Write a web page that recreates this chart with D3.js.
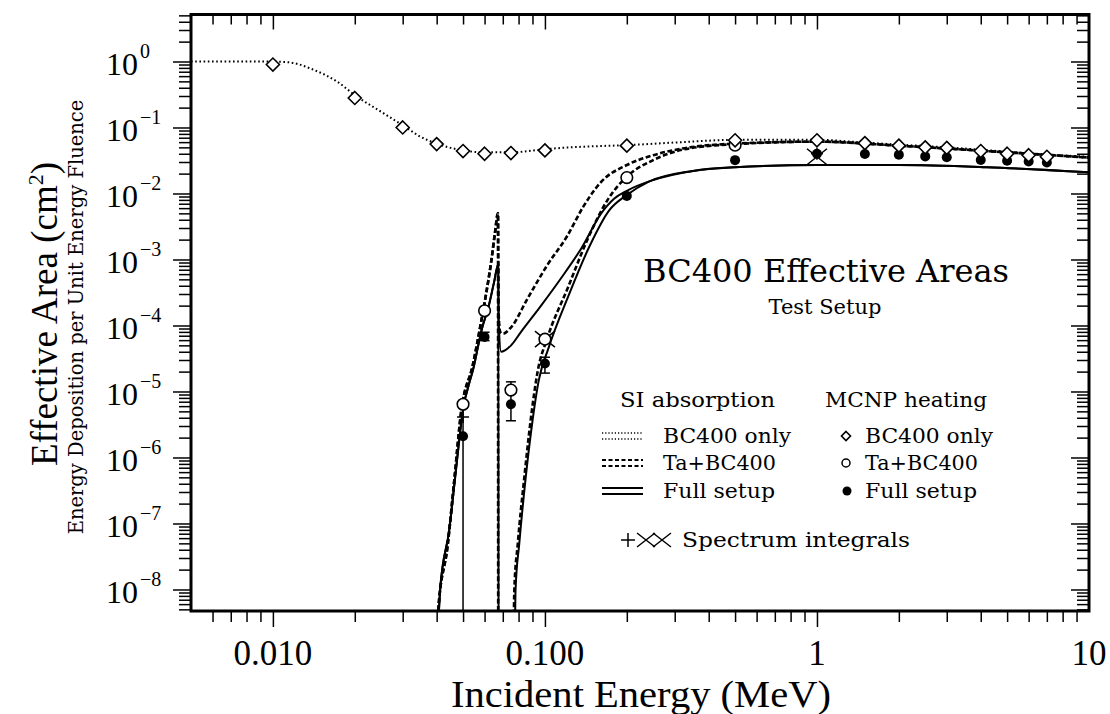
<!DOCTYPE html>
<html><head><meta charset="utf-8">
<script src="https://cdn.jsdelivr.net/npm/d3@7"></script>
<style>body{margin:0;background:#fff}svg{display:block}</style></head>
<body><svg id="c" width="1110" height="714"></svg>
<script>
// ---------- data ----------
const xTickValues = [0.01, 0.1, 1, 10];
const xTickLabels = ["0.010", "0.100", "1", "10"];
const yTickExponents = [0, -1, -2, -3, -4, -5, -6, -7, -8];

// SI absorption curves (energy MeV, effective area cm^2)
const siBC400E = [0.005,0.008,0.0105,0.0115,0.0142,0.0173,0.02,0.025,0.03,0.035,0.04,0.05,0.06,0.075,0.1,0.136,0.2,0.32,0.5,1,1.5,2,3,5,7,10];
const siBC400V = [1.0,1.0,0.99,0.97,0.74,0.49,0.31,0.173,0.108,0.072,0.057,0.045,0.042,0.042,0.047,0.051,0.054,0.060,0.065,0.065,0.059,0.055,0.050,0.043,0.039,0.036];

const siTaUpperE = [0.0398,0.0405,0.0439,0.0465,0.0492,0.0543,0.0582,0.0604,0.0634,0.0655,0.0672,0.0676,0.0685,0.070,0.0751,0.0865,0.102,0.121,0.138,0.161,0.2,0.25,0.32,0.5,1,2,5,10];
const siTaUpperV = [1e-9,4.6e-9,4.7e-8,4.8e-7,4.9e-6,2.5e-5,1.1e-4,2.6e-4,9e-4,2.5e-3,5.0e-3,1.5e-4,8e-5,7.5e-5,9.4e-5,2.6e-4,8.2e-4,2.3e-3,6.2e-3,0.015,0.027,0.038,0.048,0.057,0.061,0.053,0.042,0.035];

const siTaLowerE = [0.0398,0.0405,0.0439,0.0465,0.0492,0.0543,0.0582,0.0604,0.0634,0.0655,0.0672,0.0674,0.0755,0.0772,0.0795,0.084,0.0885,0.094,0.102,0.121,0.144,0.17,0.2,0.25,0.32,0.5,1,2,5,10];
const siTaLowerV = [1e-9,4.6e-9,4.7e-8,4.8e-7,4.9e-6,2.5e-5,1.1e-4,2.6e-4,9e-4,2.5e-3,5.0e-3,1e-11,1e-11,1e-8,5e-8,5e-7,3.5e-6,2e-5,6.4e-5,3.6e-4,2.1e-3,8e-3,0.018,0.032,0.046,0.056,0.061,0.053,0.042,0.035];

const siFullUpperE = [0.0401,0.0412,0.0445,0.047,0.0497,0.0548,0.0587,0.062,0.065,0.0674,0.0677,0.069,0.0751,0.0817,0.0968,0.1146,0.136,0.161,0.18,0.2,0.25,0.35,0.5,1,2,4.2,10];
const siFullUpperV = [1e-9,1e-8,8e-8,6e-7,4.5e-6,2.4e-5,9e-5,1.9e-4,4.5e-4,8.5e-4,1e-4,4.0e-5,5e-5,8e-5,2.0e-4,5.2e-4,1.47e-3,5.0e-3,8.4e-3,0.011,0.016,0.022,0.025,0.027,0.027,0.025,0.021];

const siFullLowerE = [0.0401,0.0412,0.0445,0.047,0.0497,0.0548,0.0587,0.062,0.065,0.0674,0.0676,0.0765,0.078,0.0805,0.085,0.0895,0.095,0.103,0.122,0.146,0.172,0.2,0.24,0.35,0.5,1,2,4.2,10];
const siFullLowerV = [1e-9,1e-8,8e-8,6e-7,4.5e-6,2.4e-5,9e-5,1.9e-4,4.5e-4,8.5e-4,1e-11,1e-11,1e-8,5e-8,5e-7,3e-6,1.5e-5,4.5e-5,2.8e-4,1.6e-3,5.5e-3,9.5e-3,0.015,0.022,0.025,0.027,0.027,0.025,0.021];

// MCNP heating points
const mcnpBC400E = [0.01,0.02,0.03,0.04,0.05,0.06,0.075,0.1,0.2,0.5,1,1.5,2,2.5,3,4,5,6,7];
const mcnpBC400V = [0.90,0.28,0.10,0.056,0.044,0.040,0.041,0.045,0.053,0.064,0.064,0.058,0.053,0.050,0.049,0.044,0.040,0.038,0.036];
const mcnpTaE = [0.05,0.06,0.075,0.1,0.2,0.5];
const mcnpTaV = [6.4e-6,1.67e-4,1.05e-5,6.2e-5,0.0174,0.054];
const mcnpFullE = [0.05,0.06,0.075,0.1,0.2,0.5,1,1.5,2,2.5,3,4,5,6,7];
const mcnpFullV = [2.1e-6,6.7e-5,6.4e-6,2.65e-5,0.0092,0.032,0.040,0.0397,0.0387,0.0365,0.0354,0.0322,0.0314,0.0305,0.0295];

// error bars
const errE  = [0.01, 0.05, 0.06, 0.075, 0.1];
const errLo = [0.83, 1e-12, 5.9e-5, 3.6e-6, 1.9e-5];
const errHi = [1.07, 6.4e-6, 7.9e-5, 1.4e-5, 3.3e-5];

// spectrum integrals
const specPlusE = [0.05, 1.0];
const specPlusV = [4.1e-6, 0.040];
const specCrossE = [0.1, 1.0];
const specCrossV = [6.2e-5, 0.036];

const legendLineLabels = ["BC400 only", "Ta+BC400", "Full setup"];
const legendMarkLabels = ["BC400 only", "Ta+BC400", "Full setup"];

// ---------- chart ----------
const svg = d3.select("#c");
const L = 191, R = 1089, T = 14.5, B = 611;
const x = d3.scaleLog().domain([0.005, 10]).range([L, R]);
const y = d3.scaleLog().domain([Math.pow(10, -8.326), Math.pow(10, 0.712)]).range([B, T]);
const serif = "'DejaVu Serif', serif";
const tserif = "'Liberation Serif', serif";

svg.append("rect").attr("width", 1110).attr("height", 714).attr("fill", "#fff");

// minor tick values
const xMinor = [], yMinor = [];
for (let k = -3; k <= 1; k++) for (let m = 2; m <= 9; m++) {
  const v = m * Math.pow(10, k);
  if (v > 0.005 && v < 10) xMinor.push(v);
}
for (let k = -9; k <= 0; k++) for (let m = 2; m <= 9; m++) {
  const v = m * Math.pow(10, k);
  if (v > y.domain()[0] && v < y.domain()[1]) yMinor.push(v);
}
const yMajor = yTickExponents.map(e => Math.pow(10, e));
const xMajorAll = [0.01, 0.1, 1];

function axisG(axisFn, scale, vals, size, tr) {
  const g = svg.append("g").attr("transform", tr)
    .call(axisFn(scale).tickValues(vals).tickSize(size).tickFormat(""));
  g.select(".domain").remove();
  g.selectAll(".tick line").attr("stroke", "#000").attr("stroke-width", 1.5);
  return g;
}
// left: outward
axisG(d3.axisLeft, y, yMajor, 18, `translate(${L},0)`);
axisG(d3.axisLeft, y, yMinor, 12, `translate(${L},0)`);
// right: inward
axisG(d3.axisLeft, y, yMajor, 18, `translate(${R},0)`);
axisG(d3.axisLeft, y, yMinor, 12, `translate(${R},0)`);
// bottom: outward
axisG(d3.axisBottom, x, xMajorAll, 16, `translate(0,${B})`);
axisG(d3.axisBottom, x, xMinor, 11, `translate(0,${B})`);
// top: inward
axisG(d3.axisBottom, x, xMajorAll, 15, `translate(0,${T})`);
axisG(d3.axisBottom, x, xMinor, 10, `translate(0,${T})`);

// y tick labels 10^k
yTickExponents.forEach(e => {
  const yy = y(Math.pow(10, e));
  svg.append("text").attr("x", 106).attr("y", yy + 14)
    .attr("font-family", tserif).attr("font-size", 32).attr("fill", "#000").text("10");
  svg.append("text").attr("x", 140).attr("y", yy - 3)
    .attr("font-family", tserif).attr("font-size", 20).attr("fill", "#000")
    .text(e === 0 ? "0" : "\u2212" + (-e));
});
// x tick labels
xTickValues.forEach((v, i) => {
  svg.append("text").attr("x", x(v)).attr("y", 665).attr("text-anchor", "middle")
    .attr("font-family", tserif).attr("font-size", 35).attr("fill", "#000").text(xTickLabels[i]);
});
// axis titles
svg.append("text").attr("x", 641).attr("y", 706.5).attr("text-anchor", "middle")
  .attr("font-family", tserif).attr("font-size", 38).attr("textLength", 380).attr("lengthAdjust", "spacingAndGlyphs")
  .attr("fill", "#000").text("Incident Energy (MeV)");
const yt = svg.append("text").attr("transform", "translate(57,314) rotate(-90)").attr("text-anchor", "middle")
  .attr("font-family", tserif).attr("font-size", 37).attr("fill", "#000");
yt.append("tspan").text("Effective Area (cm");
yt.append("tspan").attr("font-size", 22).attr("dy", -14).text("2");
yt.append("tspan").attr("dy", 14).text(")");
svg.append("text").attr("transform", "translate(83,317) rotate(-90)").attr("text-anchor", "middle")
  .attr("font-family", serif).attr("font-size", 19.5).attr("fill", "#000")
  .text("Energy Deposition per Unit Energy Fluence");

// clip
svg.append("clipPath").attr("id", "pc").append("rect")
  .attr("x", L).attr("y", T).attr("width", R - L).attr("height", B - T);
const plot = svg.append("g").attr("clip-path", "url(#pc)");

const line = d3.line().x(d => x(d[0])).y(d => y(Math.max(d[1], 1e-12))).curve(d3.curveMonotoneX);
function curve(E, V, style) {
  const p = plot.append("path").datum(E.map((e, i) => [e, V[i]])).attr("d", line)
    .attr("fill", "none").attr("stroke", "#000");
  if (style === "dot") p.attr("stroke-width", 2).attr("stroke-dasharray", "1.6,2.6");
  else if (style === "dash") p.attr("stroke-width", 2.6).attr("stroke-dasharray", "5,2.5");
  else p.attr("stroke-width", 2);
}
curve(siBC400E, siBC400V, "dot");
curve(siTaUpperE, siTaUpperV, "dash");
curve(siTaLowerE, siTaLowerV, "dash");
curve(siFullUpperE, siFullUpperV, "solid");
curve(siFullLowerE, siFullLowerV, "solid");

// error bars
errE.forEach((e, i) => {
  const xx = x(e), y1 = y(errLo[i]), y2 = y(errHi[i]);
  plot.append("line").attr("x1", xx).attr("x2", xx).attr("y1", Math.min(y1, B + 5)).attr("y2", y2)
    .attr("stroke", "#000").attr("stroke-width", 1.5);
  if (i > 0) {
    [y1, y2].forEach(yy => { if (yy < B) plot.append("line").attr("x1", xx - 5).attr("x2", xx + 5)
      .attr("y1", yy).attr("y2", yy).attr("stroke", "#000").attr("stroke-width", 1.5); });
  }
});

// spectrum integrals
function plus(g, cx, cy, s) {
  g.append("path").attr("d", `M${cx - s},${cy}H${cx + s}M${cx},${cy - s}V${cy + s}`)
    .attr("stroke", "#000").attr("stroke-width", 1.5).attr("fill", "none");
}
function cross(g, cx, cy, sx, sy) {
  g.append("path").attr("d", `M${cx - sx},${cy - sy}L${cx + sx},${cy + sy}M${cx - sx},${cy + sy}L${cx + sx},${cy - sy}`)
    .attr("stroke", "#000").attr("stroke-width", 1.5).attr("fill", "none");
}
specCrossE.forEach((e, i) => cross(plot, x(e), y(specCrossV[i]), 10, 8));

// markers
function diamond(g, cx, cy, s) {
  g.append("path").attr("d", `M${cx},${cy - s}L${cx + s},${cy}L${cx},${cy + s}L${cx - s},${cy}Z`)
    .attr("fill", "#fff").attr("stroke", "#000").attr("stroke-width", 1.6);
}
mcnpTaE.forEach((e, i) => plot.append("circle").attr("cx", x(e)).attr("cy", y(mcnpTaV[i])).attr("r", 5.8)
  .attr("fill", "#fff").attr("stroke", "#000").attr("stroke-width", 1.6));
mcnpFullE.forEach((e, i) => plot.append("circle").attr("cx", x(e)).attr("cy", y(mcnpFullV[i])).attr("r", 5)
  .attr("fill", "#000"));
mcnpBC400E.forEach((e, i) => diamond(plot, x(e), y(mcnpBC400V[i]), 6.5));
specPlusE.forEach((e, i) => plus(plot, x(e), y(specPlusV[i]), 6));

// title
svg.append("text").attr("x", 826).attr("y", 282).attr("text-anchor", "middle")
  .attr("font-family", serif).attr("font-size", 32).attr("fill", "#000").text("BC400 Effective Areas");
svg.append("text").attr("x", 825).attr("y", 314).attr("text-anchor", "middle")
  .attr("font-family", serif).attr("font-size", 21).attr("fill", "#000").text("Test Setup");

// legend
const lg = svg.append("g");
const fs = 20.5;
function ltext(tx, ty, s, w) {
  lg.append("text").attr("x", tx).attr("y", ty).attr("font-family", serif).attr("font-size", fs)
    .attr("textLength", w).attr("lengthAdjust", "spacingAndGlyphs").text(s);
}
ltext(620, 407, "SI absorption", 155);
ltext(825, 407, "MCNP heating", 162);
const rowY = [436, 463, 491];
const rowW = [128, 113, 112];
const styles = ["dot", "dash", "solid"];
rowY.forEach((ry, i) => {
  ltext(663, ry + 7, legendLineLabels[i], rowW[i]);
  ltext(865, ry + 7, legendMarkLabels[i], rowW[i]);
  [-3, 3].forEach(dy => {
    const l = lg.append("line").attr("x1", 602).attr("x2", 643).attr("y1", ry + dy).attr("y2", ry + dy).attr("stroke", "#000");
    if (styles[i] === "dot") l.attr("stroke-width", 1.5).attr("stroke-dasharray", "1.2,2");
    else if (styles[i] === "dash") l.attr("stroke-width", 2).attr("stroke-dasharray", "4,2.5");
    else l.attr("stroke-width", 2);
  });
});
diamond(lg, 846, rowY[0], 4.5);
lg.append("circle").attr("cx", 846).attr("cy", rowY[1]).attr("r", 4).attr("fill", "#fff").attr("stroke", "#000").attr("stroke-width", 1.5);
lg.append("circle").attr("cx", 847).attr("cy", rowY[2]).attr("r", 4.5).attr("fill", "#000");
plus(lg, 628, 540, 7);
cross(lg, 646, 540, 9, 7);
cross(lg, 662, 540, 9, 7);
ltext(682, 547, "Spectrum integrals", 228);

// frame
svg.append("rect").attr("x", L).attr("y", T).attr("width", R - L).attr("height", B - T)
  .attr("fill", "none").attr("stroke", "#000").attr("stroke-width", 3);
</script></body></html>
